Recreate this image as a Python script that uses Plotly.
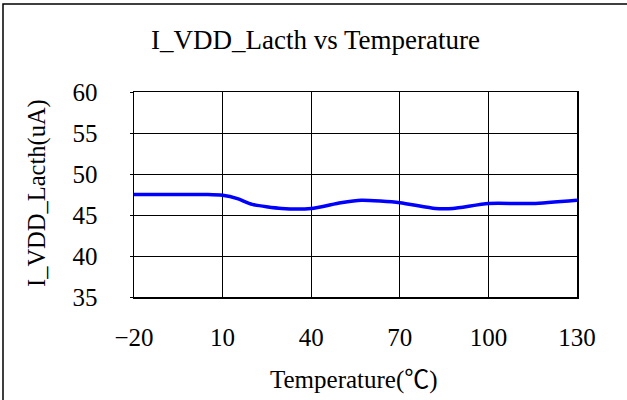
import plotly.graph_objects as go

temps = [-20, -10, 0, 5, 10, 15, 20, 30, 40, 50, 57, 70, 82, 88, 100, 115, 130]
current = [47.5, 47.5, 47.5, 47.5, 47.4, 47.0, 46.3, 45.8, 45.8, 46.5, 46.8, 46.5, 45.8, 45.8, 46.4, 46.4, 46.8]
x_ticks = [-20, 10, 40, 70, 100, 130]
y_ticks = [35, 40, 45, 50, 55, 60]

title_text = "I_VDD_Lacth vs Temperature"
x_title = "Temperature(℃)"
y_title = "I_VDD_Lacth(uA)"

FONT = "Liberation Serif, Times New Roman, Noto Sans CJK SC, serif"
W, H = 627, 400
PX_L, PX_R, PX_T, PX_B = 134, 577, 92, 297
L, T = PX_L, PX_T
pw = PX_R - PX_L
ph = PX_B - PX_T
R = W - L - pw
B = H - T - ph

fig = go.Figure()
fig.add_trace(go.Scatter(x=temps, y=current, mode="lines",
                         line=dict(color="#0000FF", width=3.5, shape="spline", smoothing=0.6),
                         hoverinfo="skip", showlegend=False))

fig.update_xaxes(range=[-20, 130], tickvals=x_ticks, showgrid=True, gridcolor="black", gridwidth=1,
                 showline=True, linecolor="black", linewidth=1.5, mirror=True, zeroline=False,
                 ticks="", tickfont=dict(family=FONT, size=25, color="black"), ticklabelstandoff=17)
fig.update_yaxes(range=[35, 60], tickvals=y_ticks, showgrid=True, gridcolor="black", gridwidth=1,
                 showline=True, linecolor="black", linewidth=1.5, mirror=True, zeroline=False,
                 ticks="outside", ticklen=3, tickcolor="black",
                 tickfont=dict(family=FONT, size=25, color="black"), ticklabelstandoff=27)

def px2paper_x(p):
    return (p - PX_L) / pw

def px2paper_y(p):
    return (PX_B - p) / ph

fig.add_annotation(text=title_text, x=px2paper_x(315), y=px2paper_y(40), xref="paper", yref="paper",
                   showarrow=False, xanchor="center", yanchor="middle",
                   font=dict(family=FONT, size=27, color="black"))
fig.add_annotation(text=x_title, x=px2paper_x(354), y=px2paper_y(380), xref="paper", yref="paper",
                   showarrow=False, xanchor="center", yanchor="middle",
                   font=dict(family=FONT, size=25, color="black"))
fig.add_annotation(text=y_title, x=px2paper_x(37), y=px2paper_y(193), xref="paper", yref="paper",
                   showarrow=False, xanchor="center", yanchor="middle", textangle=-90,
                   font=dict(family=FONT, size=24.5, color="black"))

fig.add_shape(type="rect", xref="paper", yref="paper",
              x0=px2paper_x(3), y0=px2paper_y(420), x1=px2paper_x(650), y1=px2paper_y(4),
              line=dict(color="black", width=1.5))

fig.update_layout(width=W, height=H, margin=dict(l=L, r=R, t=T, b=B, autoexpand=False),
                  paper_bgcolor="white", plot_bgcolor="white")

fig.write_html("out.html", config={"displayModeBar": False, "staticPlot": True},
               post_script="document.body.style.margin='0';document.body.style.padding='0';document.body.style.overflow='hidden';")
